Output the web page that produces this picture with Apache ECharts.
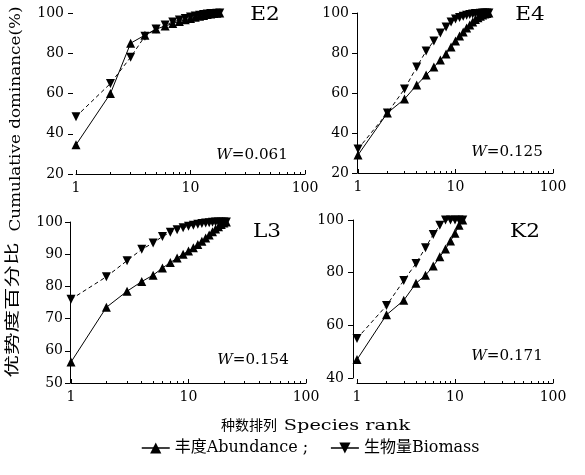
<!DOCTYPE html>
<html>
<head>
<meta charset="utf-8">
<script src="https://cdn.jsdelivr.net/npm/echarts@6/dist/echarts.min.js"></script>
<style>
  html, body { margin: 0; padding: 0; background: #fff; }
  #chart { width: 585px; height: 475px; }
</style>
</head>
<body>
<div id="chart"></div>
<script>
// Species rank (x) and cumulative dominance (%) for each station
const rankE2  = [1, 2, 3, 4, 5, 6, 7, 8, 9, 10, 11, 12, 13, 14, 15, 16, 17, 18];
const abundE2 = [34.5, 60, 85, 89, 92, 93.5, 94.8, 95.8, 96.6, 97.3, 97.9, 98.4, 98.8, 99.2, 99.5, 99.7, 99.9, 100];
const bioE2   = [48.5, 65, 78, 88.5, 92, 94, 95.5, 96.5, 97.3, 98, 98.5, 98.9, 99.2, 99.5, 99.7, 99.8, 99.9, 100];

const rankE4  = [1, 2, 3, 4, 5, 6, 7, 8, 9, 10, 11, 12, 13, 14, 15, 16, 17, 18, 19, 20, 21, 22];
const abundE4 = [29, 50, 57, 64, 69, 73, 76.5, 79.5, 83, 86, 88.5, 90.5, 92.5, 94, 95.5, 96.7, 97.6, 98.4, 99, 99.5, 99.8, 100];
const bioE4   = [32, 50, 62, 73, 81, 86, 90, 93, 95.5, 97, 97.8, 98.4, 98.9, 99.2, 99.5, 99.7, 99.8, 99.9, 100, 100, 100, 100];

const rankL3  = [1, 2, 3, 4, 5, 6, 7, 8, 9, 10, 11, 12, 13, 14, 15, 16, 17, 18, 19, 20, 21];
const abundL3 = [56.5, 73.5, 78.5, 81.5, 83.5, 85.7, 87.4, 88.8, 90, 91, 92, 93, 94, 95, 96, 97, 97.8, 98.5, 99.2, 99.7, 100];
const bioL3   = [76, 83, 88, 91.5, 93.5, 95.5, 96.8, 97.6, 98.2, 98.7, 99, 99.3, 99.5, 99.7, 99.8, 99.9, 100, 100, 100, 100, 100];

const rankK2  = [1, 2, 3, 4, 5, 6, 7, 8, 9, 10, 11, 12];
const abundK2 = [47, 64, 69.5, 76, 79, 82.5, 86, 89, 92, 95, 98, 100];
const bioK2   = [55, 67.5, 77, 83.5, 89.5, 94.5, 98, 100, 100, 100, 100, 100];

const stationNames = ['E2', 'E4', 'L3', 'K2'];
const wValues = ['0.061', '0.125', '0.154', '0.171'];
const xTickValues = [1, 10, 100];
const xMinorValues = [2, 3, 4, 5, 6, 7, 8, 9, 20, 30, 40, 50, 60, 70, 80, 90];

const abundName = '丰度Abundance';
const bioName = '生物量Biomass';

const SERIF = "'DejaVu Serif', 'Noto Sans CJK SC', serif";

// per-panel data and layout
const panels = [
  { name: stationNames[0], w: wValues[0], rank: rankE2, abund: abundE2, bio: bioE2,
    yMin: 20, yMax: 100, yStep: 20,
    grid: { left: 76, top: 13, width: 229, height: 161 },
    yLine: false, yOffset: 3, yMargin: 9, xOffset: 0, tag: [265, 15], wPos: [252, 155] },
  { name: stationNames[1], w: wValues[1], rank: rankE4, abund: abundE4, bio: bioE4,
    yMin: 20, yMax: 100, yStep: 20,
    grid: { left: 358, top: 13, width: 195, height: 160 },
    yLine: true, yOffset: 1, yMargin: 8, xOffset: 0, tag: [530, 15], wPos: [507, 152] },
  { name: stationNames[2], w: wValues[2], rank: rankL3, abund: abundL3, bio: bioL3,
    yMin: 50, yMax: 100, yStep: 10,
    grid: { left: 71, top: 222, width: 235, height: 161 },
    yLine: true, yOffset: 1, yMargin: 7, xOffset: 0, tag: [267, 232], wPos: [253, 360] },
  { name: stationNames[3], w: wValues[3], rank: rankK2, abund: abundK2, bio: bioK2,
    yMin: 40, yMax: 100, yStep: 20,
    grid: { left: 357, top: 220, width: 196, height: 158 },
    yLine: true, yOffset: 4, yMargin: 9, xOffset: 5, tag: [525, 232], wPos: [507, 356] }
];

const grids = [], xAxes = [], yAxes = [], series = [], graphics = [];

panels.forEach((p, i) => {
  grids.push(Object.assign({ containLabel: false }, p.grid));

  // main log axis: ticks and labels at the decades
  xAxes.push({
    type: 'log', logBase: 10, min: 1, max: 100, gridIndex: i, position: 'bottom',
    offset: p.xOffset,
    axisLine: { show: true, lineStyle: { color: '#000', width: 1 } },
    axisTick: { show: true, inside: true, length: 4, customValues: xTickValues,
                lineStyle: { color: '#000', width: 1 } },
    axisLabel: { show: true, customValues: xTickValues, margin: 7, color: '#000',
                 fontFamily: SERIF, fontSize: 14, formatter: v => String(v) },
    splitLine: { show: false }, minorTick: { show: false }
  });
  // companion log axis carrying the minor ticks
  xAxes.push({
    type: 'log', logBase: 10, min: 1, max: 100, gridIndex: i, position: 'bottom',
    offset: p.xOffset,
    axisLine: { show: false },
    axisTick: { show: true, inside: true, length: 2, customValues: xMinorValues,
                lineStyle: { color: '#000', width: 1 } },
    axisLabel: { show: false },
    splitLine: { show: false }
  });

  yAxes.push({
    type: 'value', gridIndex: i, min: p.yMin, max: p.yMax, interval: p.yStep,
    offset: p.yOffset,
    axisLine: { show: p.yLine, lineStyle: { color: '#000', width: 1 } },
    axisTick: { show: true, inside: false, length: 5, lineStyle: { color: '#000', width: 1 } },
    axisLabel: { margin: p.yMargin, color: '#000', fontFamily: SERIF, fontSize: 14 },
    splitLine: { show: false }
  });

  const xIdx = i * 2;
  series.push({
    name: bioName, type: 'line', xAxisIndex: xIdx, yAxisIndex: i,
    data: p.rank.map((r, k) => [r, p.bio[k]]),
    symbol: 'triangle', symbolRotate: 180, symbolSize: 9,
    itemStyle: { color: '#000' },
    lineStyle: { color: '#000', width: 1, type: [4, 3] },
    animation: false, z: 3
  });
  series.push({
    name: abundName, type: 'line', xAxisIndex: xIdx, yAxisIndex: i,
    data: p.rank.map((r, k) => [r, p.abund[k]]),
    symbol: 'triangle', symbolSize: 9,
    itemStyle: { color: '#000' },
    lineStyle: { color: '#000', width: 1, type: 'solid' },
    animation: false, z: 4
  });

  // station tag
  graphics.push({
    type: 'text', x: p.tag[0], y: p.tag[1], scaleX: 1.2,
    style: { text: p.name, fill: '#000', font: '18px ' + SERIF, align: 'center', verticalAlign: 'middle' }
  });
  // W statistic
  graphics.push({
    type: 'text', x: p.wPos[0], y: p.wPos[1], scaleX: 1.08,
    style: {
      text: '{i|W}=' + p.w, fill: '#000', font: '14px ' + SERIF,
      align: 'center', verticalAlign: 'middle',
      rich: { i: { fontStyle: 'italic', fontFamily: SERIF, fontSize: 14, fill: '#000' } }
    }
  });
});

// shared y title (rotated, reading bottom to top)
graphics.push({
  type: 'text', x: 13, y: 310, rotation: Math.PI / 2, scaleX: 1.5,
  style: { text: '优势度百分比', fill: '#000', font: '15px ' + SERIF, align: 'center', verticalAlign: 'middle' }
});
graphics.push({
  type: 'text', x: 16, y: 119, rotation: Math.PI / 2, scaleX: 1.2,
  style: { text: 'Cumulative dominance(%)', fill: '#000', font: '14px ' + SERIF, align: 'center', verticalAlign: 'middle' }
});
// shared x title
graphics.push({
  type: 'text', x: 249, y: 426,
  style: { text: '种数排列', fill: '#000', font: '14px ' + SERIF, align: 'center', verticalAlign: 'middle' }
});
graphics.push({
  type: 'text', x: 347, y: 426, scaleX: 1.38,
  style: { text: 'Species rank', fill: '#000', font: '14px ' + SERIF, align: 'center', verticalAlign: 'middle' }
});

const chart = echarts.init(document.getElementById('chart'), null, { renderer: 'canvas' });
chart.setOption({
  animation: false,
  backgroundColor: '#fff',
  textStyle: { fontFamily: SERIF },
  grid: grids,
  xAxis: xAxes,
  yAxis: yAxes,
  series: series,
  graphic: graphics,
  legend: {
    data: [abundName, bioName],
    left: 136, top: 435,
    itemWidth: 28, itemHeight: 14, itemGap: 22,
    lineStyle: { type: 'solid', width: 1.5 },
    textStyle: {
      fontFamily: SERIF, fontSize: 16, color: '#000',
      rich: { t: { fontFamily: SERIF, fontSize: 16, color: '#000' } }
    },
    formatter: name => '{t|' + (name === abundName ? name + ' ;' : name) + '}'
  }
});
</script>
</body>
</html>
